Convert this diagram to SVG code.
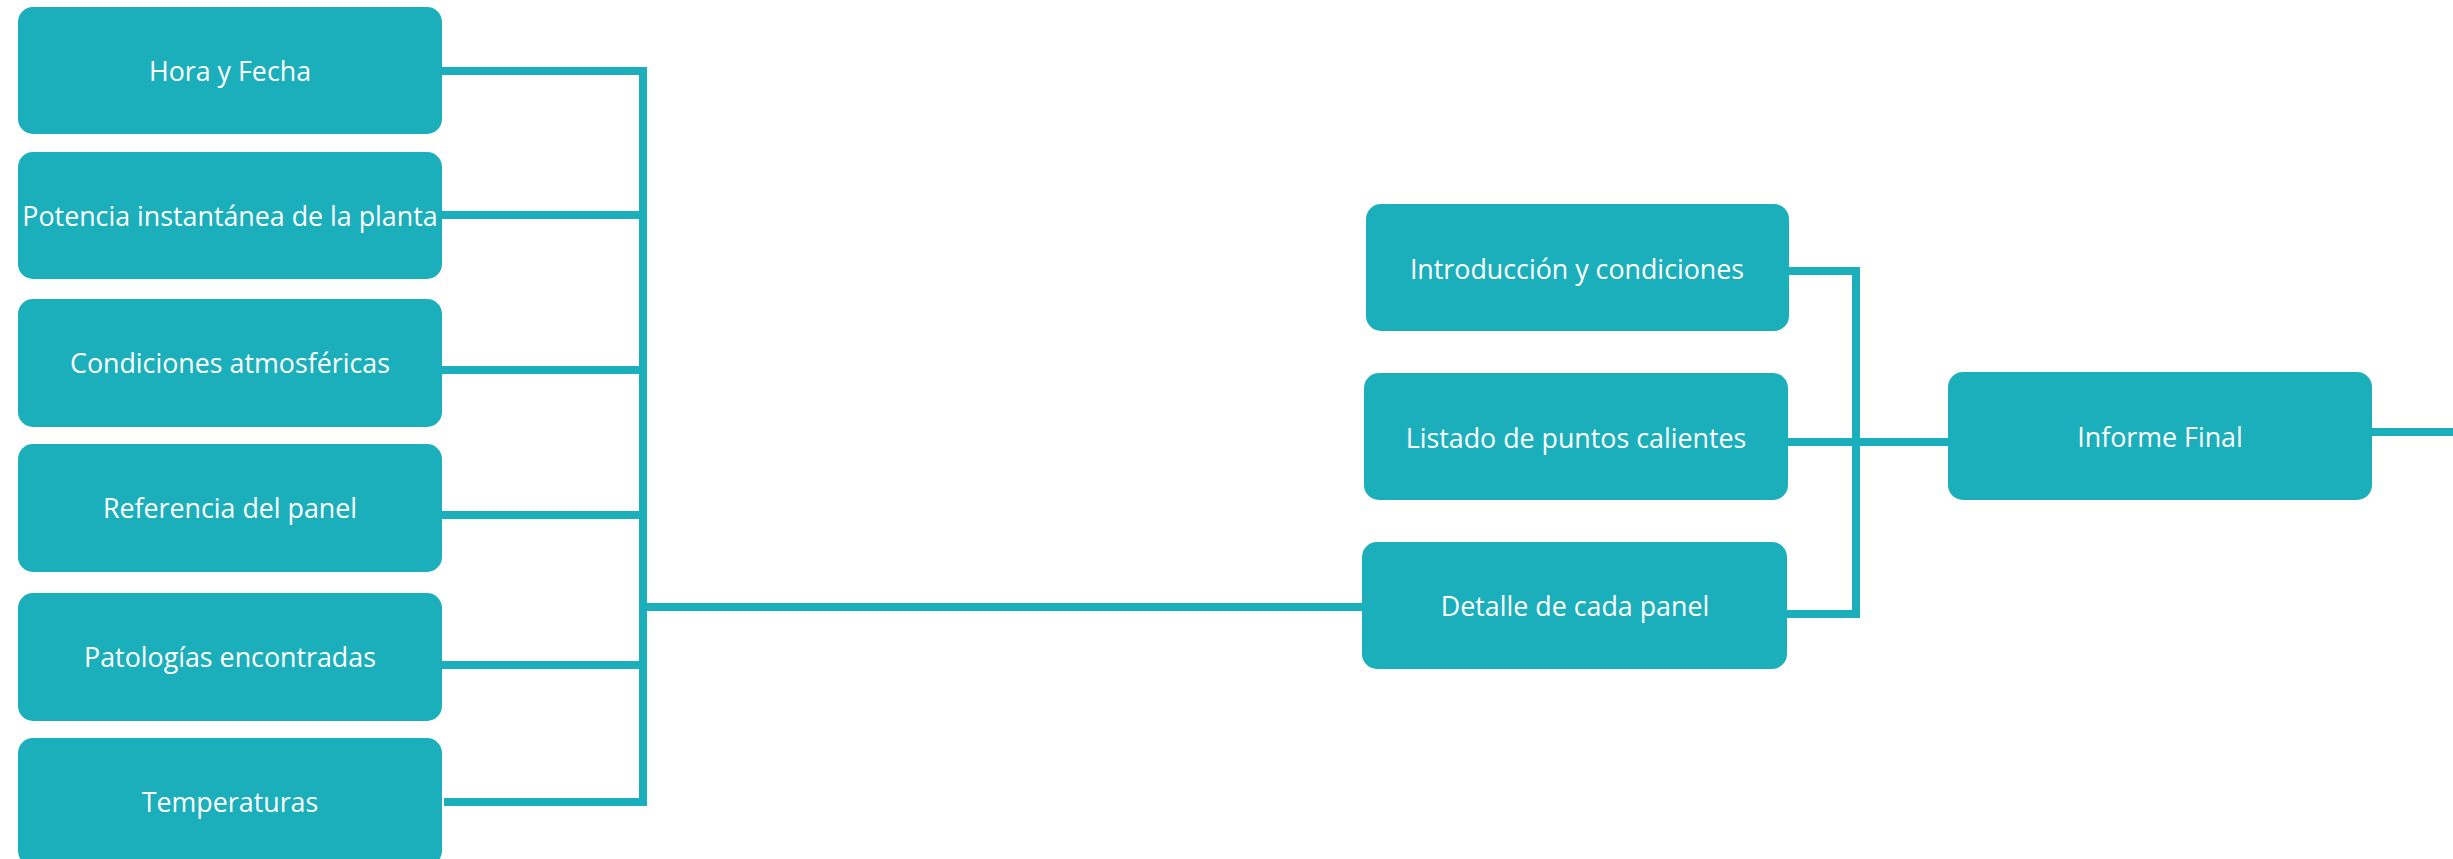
<svg xmlns="http://www.w3.org/2000/svg" width="2453" height="859" viewBox="0 0 2453 859">
<style>
.box{fill:#1BAFBC}
.lbl{font-family:"Open Sans","Liberation Sans",sans-serif;font-size:26.8px;fill:#ffffff;text-anchor:middle}
.con{fill:none;stroke:#1BAFBC;stroke-width:8;stroke-linecap:butt;stroke-linejoin:miter}
</style>
<rect width="2453" height="859" fill="#ffffff"/>
<g id="connectors">
<path class="con" d="M442 71 H643"/>
<path class="con" d="M442 215 H643"/>
<path class="con" d="M442 370 H643"/>
<path class="con" d="M442 515 H643"/>
<path class="con" d="M442 665 H643"/>
<path class="con" d="M444 802 H643"/>
<path class="con" d="M643 67 V806"/>
<path class="con" d="M643 607 H1363"/>
<path class="con" d="M1789 271 H1856"/>
<path class="con" d="M1788 442 H1948"/>
<path class="con" d="M1787 614 H1856"/>
<path class="con" d="M1856 267 V618"/>
<path class="con" d="M2372 432 H2453"/>
</g>
<g id="n1"><rect class="box" x="18" y="7" width="424" height="127" rx="15"/><text class="lbl" x="230" y="81">Hora y Fecha</text></g>
<g id="n2"><rect class="box" x="18" y="152" width="424" height="127" rx="15"/><text class="lbl" x="230" y="226">Potencia instantánea de la planta</text></g>
<g id="n3"><rect class="box" x="18" y="299" width="424" height="128" rx="15"/><text class="lbl" x="230" y="373">Condiciones atmosféricas</text></g>
<g id="n4"><rect class="box" x="18" y="444" width="424" height="128" rx="15"/><text class="lbl" x="230" y="518">Referencia del panel</text></g>
<g id="n5"><rect class="box" x="18" y="593" width="424" height="128" rx="15"/><text class="lbl" x="230" y="667">Patologías encontradas</text></g>
<g id="n6"><rect class="box" x="18" y="738" width="424" height="128" rx="15"/><text class="lbl" x="230" y="812">Temperaturas</text></g>
<g id="n7"><rect class="box" x="1366" y="204" width="423" height="127" rx="15"/><text class="lbl" x="1577" y="279">Introducción y condiciones</text></g>
<g id="n8"><rect class="box" x="1364" y="373" width="424" height="127" rx="15"/><text class="lbl" x="1576" y="448">Listado de puntos calientes</text></g>
<g id="n9"><rect class="box" x="1362" y="542" width="425" height="127" rx="15"/><text class="lbl" x="1575" y="616">Detalle de cada panel</text></g>
<g id="n10"><rect class="box" x="1948" y="372" width="424" height="128" rx="15"/><text class="lbl" x="2160" y="447">Informe Final</text></g>
</svg>
